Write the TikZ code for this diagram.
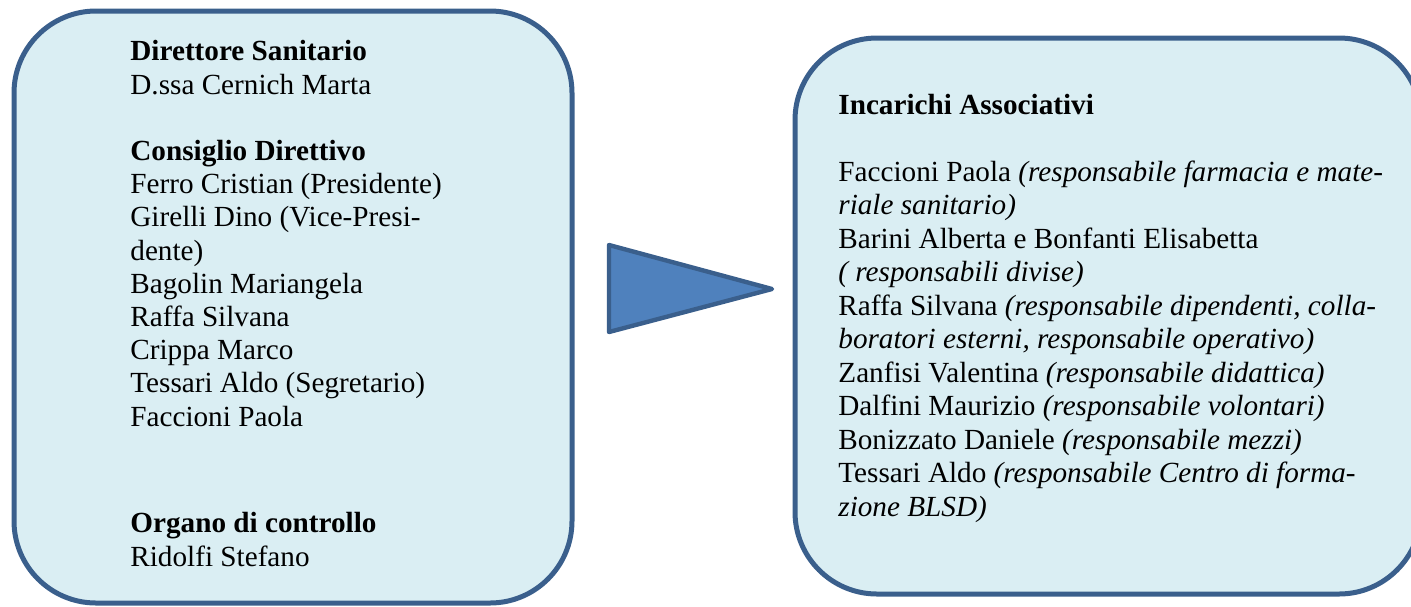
\documentclass[tikz,border=0pt]{standalone}
\usepackage{fontspec}
\setmainfont{Liberation Serif}
\definecolor{boxfill}{HTML}{DAEEF3}
\definecolor{boxline}{HTML}{3A5F8C}
\definecolor{trifill}{HTML}{4F81BD}
\begin{document}
\begin{tikzpicture}[x=0.5pt,y=-0.5pt,
  panel/.style={draw=boxline, fill=boxfill, line width=2.5pt, rounded corners=41pt},
  tri/.style={draw=boxline, fill=trifill, line width=2.2pt, line join=round},
  txt/.style={anchor=base west, inner sep=0pt, align=left, font=\fontsize{14.6}{16.6}\selectfont},
  txtr/.style={txt, font=\fontsize{14.6}{16.75}\selectfont}]
\useasboundingbox (0,0) rectangle (1411,606);
\clip (0,0) rectangle (1411,606);
\draw[panel] (14,11) rectangle (572,603);
\draw[panel] (795,38) rectangle (1421,594);
\draw[tri] (609,245) -- (772,289) -- (609,332) -- cycle;
\node[txt] (lefttop) at (130,426) {\textbf{Direttore Sanitario}\\
D.ssa Cernich Marta\\[16.6pt]
\textbf{Consiglio Direttivo}\\
Ferro Cristian (Presidente)\\
Girelli Dino (Vice-Presi-\\
dente)\\
Bagolin Mariangela\\
Raffa Silvana\\
Crippa Marco\\
Tessari Aldo (Segretario)\\
Faccioni Paola};
\node[txt] (leftbot) at (130,566) {\textbf{Organo di controllo}\\
Ridolfi Stefano};
\node[txtr] (right) at (838,516) {\textbf{Incarichi Associativi}\\[16.75pt]
Faccioni Paola \textit{(responsabile farmacia e mate-}\\
\textit{riale sanitario)}\\
Barini Alberta e Bonfanti Elisabetta\\
\textit{( responsabili divise)}\\
Raffa Silvana \textit{(responsabile dipendenti, colla-}\\
\textit{boratori esterni, responsabile operativo)}\\
Zanfisi Valentina \textit{(responsabile didattica)}\\
Dalfini Maurizio \textit{(responsabile volontari)}\\
Bonizzato Daniele \textit{(responsabile mezzi)}\\
Tessari Aldo \textit{(responsabile Centro di forma-}\\
\textit{zione BLSD)}};
\end{tikzpicture}
\end{document}
